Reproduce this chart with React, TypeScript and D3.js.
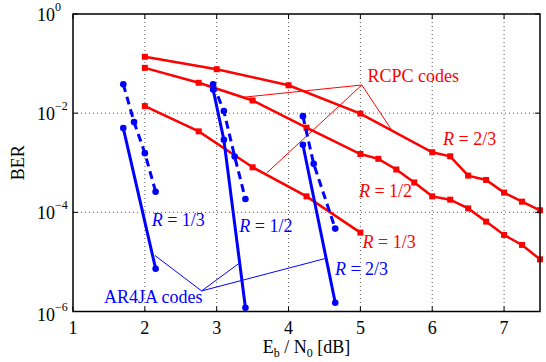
import React from "react";
import * as d3 from "d3";

// RCPC codes (red, squares)
const rcpc23X = [2, 3, 4, 5, 6, 6.25, 6.5, 6.75, 7, 7.25, 7.5];
const rcpc23Ber = [1.37e-1, 7.7e-2, 3.65e-2, 9.8e-3, 1.63e-3, 1.35e-3, 5.5e-4, 4.5e-4, 2.5e-4, 1.64e-4, 1.1e-4];
const rcpc12X = [2, 2.75, 3.5, 4.25, 5, 5.25, 5.5, 5.75, 6, 6.25, 6.5, 6.75, 7, 7.25, 7.5];
const rcpc12Ber = [8.2e-2, 4.1e-2, 1.8e-2, 5.1e-3, 1.5e-3, 1.2e-3, 7.3e-4, 4.0e-4, 2.1e-4, 1.8e-4, 1.2e-4, 6.5e-5, 3.5e-5, 2.2e-5, 1.13e-5];
const rcpc13X = [2, 2.75, 3.5, 4.25, 5];
const rcpc13Ber = [1.39e-2, 4.3e-3, 8.1e-4, 2.1e-4, 3.9e-5];

// AR4JA codes (blue, dots) - dashed and solid curves
const ar13DashX = [1.7, 1.85, 2.0, 2.15];
const ar13DashBer = [3.83e-2, 6.6e-3, 1.56e-3, 2.6e-4];
const ar13SolidX = [1.7, 2.15];
const ar13SolidBer = [5.0e-3, 7.3e-6];
const ar12DashX = [2.95, 3.1, 3.25, 3.4];
const ar12DashBer = [3.83e-2, 1.1e-2, 1.34e-3, 1.86e-4];
const ar12SolidX = [2.95, 3.1, 3.4];
const ar12SolidBer = [3.0e-2, 2.9e-3, 1.19e-6];
const ar23DashX = [4.2, 4.35, 4.65];
const ar23DashBer = [8.7e-3, 9.5e-4, 4.7e-5];
const ar23SolidX = [4.2, 4.65];
const ar23SolidBer = [2.3e-3, 1.5e-6];

const xTicks = [1, 2, 3, 4, 5, 6, 7];
const yTickExps = [0, -2, -4, -6];

// annotations (data coordinates)
const rcpcAnchor = [5.02, 3.7e-2];
const rcpcTargets = [[3.35, 2.08e-2], [3.7, 6.3e-4], [5.43, 4.7e-3]];
const arAnchor = [2.79, 2.6e-6];
const arTargets = [[2.14, 1.35e-5], [3.3, 9.1e-6], [4.53, 1.19e-5]];
const redLabels = [
  { x: 6.15, y: 2.26e-3, t: "2/3" },
  { x: 4.98, y: 2.0e-4, t: "1/2" },
  { x: 5.03, y: 1.9e-5, t: "1/3" },
];
const blueLabels = [
  { x: 2.095, y: 5.2e-5, t: "1/3" },
  { x: 3.315, y: 4.0e-5, t: "1/2" },
  { x: 4.646, y: 5.5e-6, t: "2/3" },
];

const W = 546;
const H = 362;
const L = 73, R = 540, T = 14, B = 311.5;
const serif = { fontFamily: "Liberation Serif, Times New Roman, serif" };
const RED = "#ff0000";
const BLUE = "#0000ff";

export default function App() {
  const x = d3.scaleLinear().domain([1, 7.5]).range([L, R]);
  const y = d3.scaleLog().domain([1e-6, 1]).range([B, T]);
  const line = d3.line<[number, number]>().x((d) => x(d[0])).y((d) => y(d[1]));
  const pts = (xs: number[], ys: number[]) => xs.map((v, i) => [v, ys[i]] as [number, number]);

  const red = [pts(rcpc23X, rcpc23Ber), pts(rcpc12X, rcpc12Ber), pts(rcpc13X, rcpc13Ber)];
  const blueDash = [pts(ar13DashX, ar13DashBer), pts(ar12DashX, ar12DashBer), pts(ar23DashX, ar23DashBer)];
  const blueSolid = [pts(ar13SolidX, ar13SolidBer), pts(ar12SolidX, ar12SolidBer), pts(ar23SolidX, ar23SolidBer)];

  return (
    <svg width={W} height={H} style={{ position: "absolute", left: 0, top: 0, background: "#fff" }}>
      {/* grid */}
      <g stroke="#555" strokeWidth={1} strokeDasharray="1,3">
        {xTicks.slice(1).map((t) => (
          <line key={"gx" + t} x1={x(t)} x2={x(t)} y1={T} y2={B} />
        ))}
        {yTickExps.slice(1, 3).map((e) => (
          <line key={"gy" + e} x1={L} x2={R} y1={y(10 ** e)} y2={y(10 ** e)} />
        ))}
      </g>

      {/* annotation lines */}
      <g stroke={RED} strokeWidth={1} fill="none">
        {rcpcTargets.map((p, i) => (
          <line key={i} x1={x(rcpcAnchor[0])} y1={y(rcpcAnchor[1])} x2={x(p[0])} y2={y(p[1])} />
        ))}
      </g>
      <g stroke={BLUE} strokeWidth={1} fill="none">
        {arTargets.map((p, i) => (
          <line key={i} x1={x(arAnchor[0])} y1={y(arAnchor[1])} x2={x(p[0])} y2={y(p[1])} />
        ))}
      </g>

      {/* RCPC curves */}
      {red.map((s, i) => (
        <g key={"r" + i}>
          <path d={line(s) || ""} stroke={RED} strokeWidth={2.5} fill="none" />
          {s.map((p, j) => (
            <rect key={j} x={x(p[0]) - 3} y={y(p[1]) - 3} width={6} height={6} fill={RED} />
          ))}
        </g>
      ))}

      {/* AR4JA curves */}
      {blueDash.map((s, i) => (
        <g key={"bd" + i}>
          <path d={line(s) || ""} stroke={BLUE} strokeWidth={3} strokeDasharray="8,5" fill="none" />
          {s.map((p, j) => (
            <circle key={j} cx={x(p[0])} cy={y(p[1])} r={3.3} fill={BLUE} />
          ))}
        </g>
      ))}
      {blueSolid.map((s, i) => (
        <g key={"bs" + i}>
          <path d={line(s) || ""} stroke={BLUE} strokeWidth={3} fill="none" />
          {s.map((p, j) => (
            <circle key={j} cx={x(p[0])} cy={y(p[1])} r={3.3} fill={BLUE} />
          ))}
        </g>
      ))}

      {/* labels */}
      <text x={x(5.1)} y={y(4.3e-2)} fill={RED} fontSize={18} style={serif}>RCPC codes</text>
      {redLabels.map((l) => (
        <text key={"rl" + l.t} x={x(l.x)} y={y(l.y)} fill={RED} fontSize={18} style={serif}>
          <tspan fontStyle="italic">R</tspan> = {l.t}
        </text>
      ))}
      <text x={x(1.43)} y={y(1.45e-6)} fill={BLUE} fontSize={18} style={serif}>AR4JA codes</text>
      {blueLabels.map((l) => (
        <text key={"bl" + l.t} x={x(l.x)} y={y(l.y)} fill={BLUE} fontSize={18} style={serif}>
          <tspan fontStyle="italic">R</tspan> = {l.t}
        </text>
      ))}

      {/* axes box */}
      <rect x={L} y={T} width={R - L} height={B - T} fill="none" stroke="#000" strokeWidth={1.5} />
      <g stroke="#000" strokeWidth={1}>
        {xTicks.map((t) => (
          <g key={"tx" + t}>
            <line x1={x(t)} x2={x(t)} y1={B} y2={B - 5} />
            <line x1={x(t)} x2={x(t)} y1={T} y2={T + 5} />
          </g>
        ))}
        {yTickExps.map((e) => (
          <g key={"ty" + e}>
            <line x1={L} x2={L + 5} y1={y(10 ** e)} y2={y(10 ** e)} />
            <line x1={R} x2={R - 5} y1={y(10 ** e)} y2={y(10 ** e)} />
          </g>
        ))}
      </g>

      {/* tick labels */}
      {xTicks.map((t) => (
        <text key={"lx" + t} x={x(t)} y={B + 22} textAnchor="middle" fontSize={18} style={serif}>{t}</text>
      ))}
      {yTickExps.map((e) => (
        <text key={"ly" + e} x={37} y={y(10 ** e) + (e === -6 ? 9 : 7)} fontSize={18} style={serif}>
          10<tspan dy={-10} fontSize={12}>{e === 0 ? "0" : "\u2212" + -e}</tspan>
        </text>
      ))}

      {/* axis titles */}
      <text x={(L + R) / 2} y={353} textAnchor="middle" fontSize={18} style={serif}>
        E<tspan dy={4} fontSize={12}>b</tspan>
        <tspan dy={-4}> / N</tspan>
        <tspan dy={4} fontSize={12}>0</tspan>
        <tspan dy={-4}> [dB]</tspan>
      </text>
      <text transform={`translate(24,${(T + B) / 2}) rotate(-90)`} textAnchor="middle" fontSize={18} style={serif}>BER</text>
    </svg>
  );
}
